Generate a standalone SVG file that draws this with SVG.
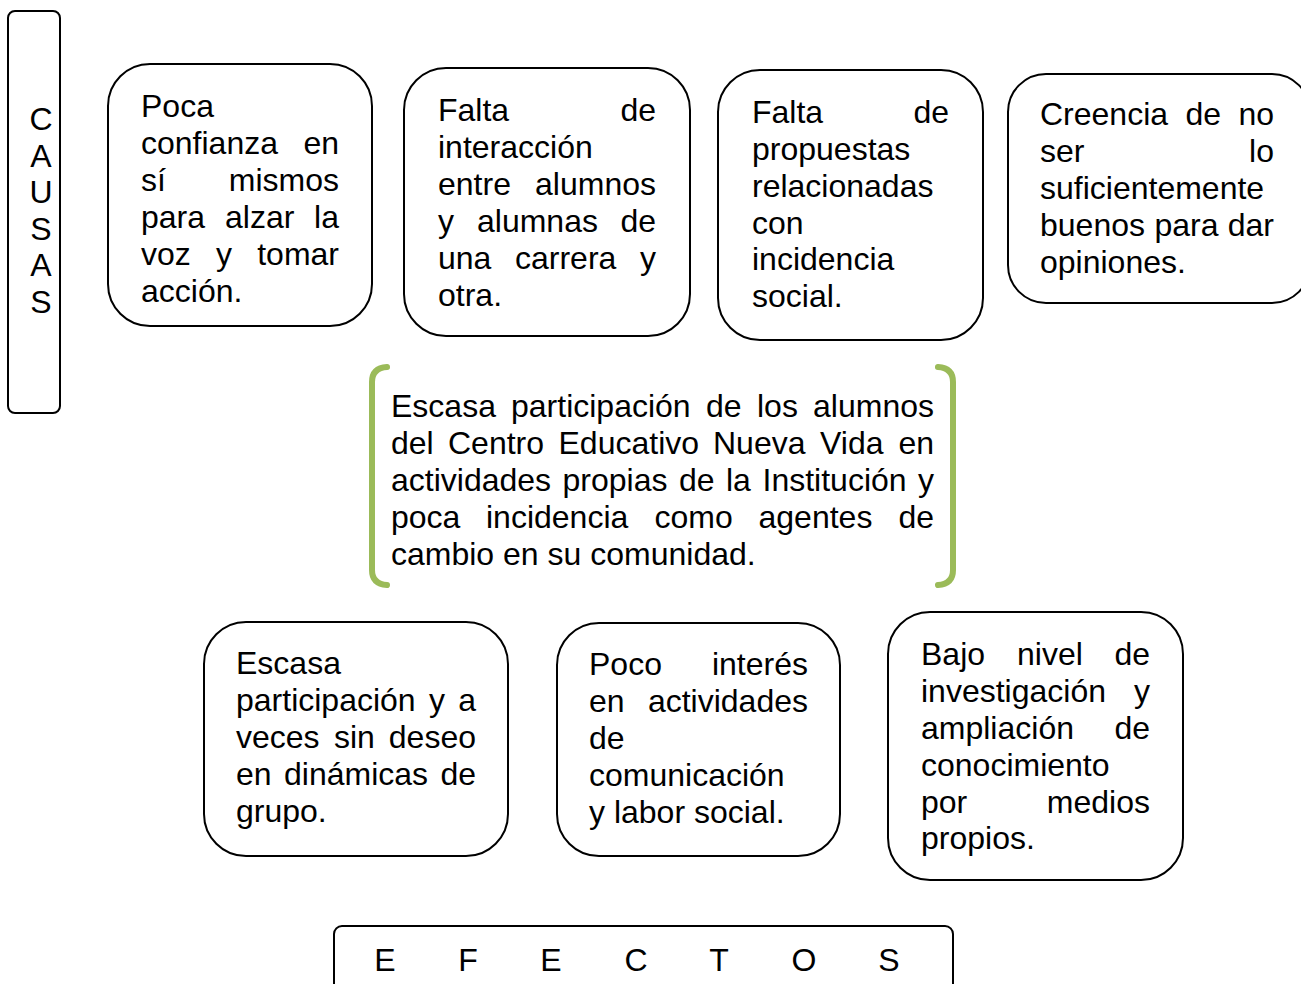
<svg xmlns="http://www.w3.org/2000/svg" width="1301" height="984" viewBox="0 0 1301 984">
<style>
.box{fill:#fff;stroke:#000;stroke-width:2}
.t{font-family:"Liberation Sans",Arial,sans-serif;font-size:32px;fill:#000}
.e{text-anchor:end}
.m{text-anchor:middle}
.br{fill:none;stroke:#9BBB59;stroke-width:6;stroke-linecap:round}
</style>
<rect width="1301" height="984" fill="#fff"/>
<g id="causas">
<rect class="box" x="8" y="11" width="52" height="402" rx="7"/>
<text class="t m" x="41" y="130">C</text>
<text class="t m" x="41" y="166.5">A</text>
<text class="t m" x="41" y="203">U</text>
<text class="t m" x="41" y="239.5">S</text>
<text class="t m" x="41" y="276">A</text>
<text class="t m" x="41" y="312.5">S</text>
</g>
<g id="causa1">
<rect class="box" x="108" y="64" width="264" height="262" rx="42"/>
<text class="t" x="141" y="117">Poca</text>
<text class="t" x="141" y="154">confianza</text><text class="t e" x="339" y="154">en</text>
<text class="t" x="141" y="191">sí</text><text class="t e" x="339" y="191">mismos</text>
<text class="t" x="141" y="228">para</text><text class="t" x="225" y="228">alzar</text><text class="t e" x="339" y="228">la</text>
<text class="t" x="141" y="265">voz</text><text class="t" x="216" y="265">y</text><text class="t e" x="339" y="265">tomar</text>
<text class="t" x="141" y="302">acción.</text>
</g>
<g id="causa2">
<rect class="box" x="404" y="68" width="286" height="268" rx="42"/>
<text class="t" x="438" y="121">Falta</text><text class="t e" x="656" y="121">de</text>
<text class="t" x="438" y="158">interacción</text>
<text class="t" x="438" y="195">entre</text><text class="t e" x="656" y="195">alumnos</text>
<text class="t" x="438" y="232">y</text><text class="t" x="477" y="232">alumnas</text><text class="t e" x="656" y="232">de</text>
<text class="t" x="438" y="269">una</text><text class="t" x="515" y="269">carrera</text><text class="t e" x="656" y="269">y</text>
<text class="t" x="438" y="306">otra.</text>
</g>
<g id="causa3">
<rect class="box" x="718" y="70" width="265" height="270" rx="42"/>
<text class="t" x="752" y="123">Falta</text><text class="t e" x="949" y="123">de</text>
<text class="t" x="752" y="160">propuestas</text>
<text class="t" x="752" y="197">relacionadas</text>
<text class="t" x="752" y="234">con</text>
<text class="t" x="752" y="270">incidencia</text>
<text class="t" x="752" y="307">social.</text>
</g>
<g id="causa4">
<rect class="box" x="1008" y="74" width="302" height="229" rx="38"/>
<text class="t" x="1040" y="125">Creencia</text><text class="t" x="1185.5" y="125">de</text><text class="t e" x="1274" y="125">no</text>
<text class="t" x="1040" y="162">ser</text><text class="t e" x="1274" y="162">lo</text>
<text class="t" x="1040" y="199">suficientemente</text>
<text class="t" x="1040" y="236">buenos</text><text class="t" x="1154.5" y="236">para</text><text class="t e" x="1274" y="236">dar</text>
<text class="t" x="1040" y="273">opiniones.</text>
</g>
<g id="problema">
<path class="br" d="M387,367 Q372,368 372,382 L372,570 Q372,584 387,585"/>
<path class="br" d="M938,367 Q953,368 953,382 L953,570 Q953,584 938,585"/>
<text class="t" x="391" y="417">Escasa</text><text class="t" x="511" y="417">participación</text><text class="t" x="706" y="417">de</text><text class="t" x="757" y="417">los</text><text class="t e" x="934" y="417">alumnos</text>
<text class="t" x="391" y="454">del</text><text class="t" x="448" y="454">Centro</text><text class="t" x="558.5" y="454">Educativo</text><text class="t" x="713" y="454">Nueva</text><text class="t" x="820" y="454">Vida</text><text class="t e" x="934" y="454">en</text>
<text class="t" x="391" y="491">actividades</text><text class="t" x="562.5" y="491">propias</text><text class="t" x="679" y="491">de</text><text class="t" x="726" y="491">la</text><text class="t" x="762.5" y="491">Institución</text><text class="t e" x="934" y="491">y</text>
<text class="t" x="391" y="528">poca</text><text class="t" x="486" y="528">incidencia</text><text class="t" x="654.5" y="528">como</text><text class="t" x="758.5" y="528">agentes</text><text class="t e" x="934" y="528">de</text>
<text class="t" x="391" y="565">cambio en su comunidad.</text>
</g>
<g id="efecto1">
<rect class="box" x="204" y="622" width="304" height="234" rx="42"/>
<text class="t" x="236" y="674">Escasa</text>
<text class="t" x="236" y="711">participación</text><text class="t" x="429" y="711">y</text><text class="t e" x="476" y="711">a</text>
<text class="t" x="236" y="748">veces</text><text class="t" x="334" y="748">sin</text><text class="t e" x="476" y="748">deseo</text>
<text class="t" x="236" y="785">en</text><text class="t" x="284" y="785">dinámicas</text><text class="t e" x="476" y="785">de</text>
<text class="t" x="236" y="822">grupo.</text>
</g>
<g id="efecto2">
<rect class="box" x="557" y="623" width="283" height="233" rx="42"/>
<text class="t" x="589" y="675">Poco</text><text class="t e" x="808" y="675">interés</text>
<text class="t" x="589" y="712">en</text><text class="t e" x="808" y="712">actividades</text>
<text class="t" x="589" y="749">de</text>
<text class="t" x="589" y="786">comunicación</text>
<text class="t" x="589" y="823">y labor social.</text>
</g>
<g id="efecto3">
<rect class="box" x="888" y="612" width="295" height="268" rx="42"/>
<text class="t" x="921" y="665">Bajo</text><text class="t" x="1017" y="665">nivel</text><text class="t e" x="1150" y="665">de</text>
<text class="t" x="921" y="702">investigación</text><text class="t e" x="1150" y="702">y</text>
<text class="t" x="921" y="739">ampliación</text><text class="t e" x="1150" y="739">de</text>
<text class="t" x="921" y="776">conocimiento</text>
<text class="t" x="921" y="813">por</text><text class="t e" x="1150" y="813">medios</text>
<text class="t" x="921" y="849">propios.</text>
</g>
<g id="efectos">
<rect class="box" x="334" y="926" width="619" height="90" rx="8"/>
<text class="t m" x="385" y="971">E</text>
<text class="t m" x="468" y="971">F</text>
<text class="t m" x="551" y="971">E</text>
<text class="t m" x="636" y="971">C</text>
<text class="t m" x="719" y="971">T</text>
<text class="t m" x="804" y="971">O</text>
<text class="t m" x="889" y="971">S</text>
</g>
<g id="connectors"/>
</svg>
